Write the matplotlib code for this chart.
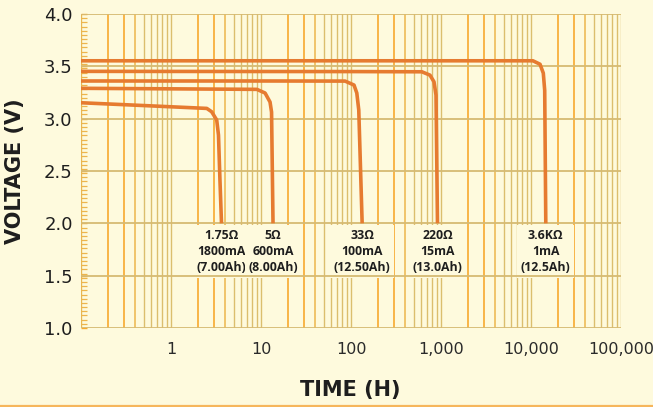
import numpy as np
import matplotlib
matplotlib.use('Agg')
import matplotlib.pyplot as plt
from matplotlib.ticker import FixedLocator, FixedFormatter, MultipleLocator, NullLocator
from matplotlib.lines import Line2D

# ---------------- data ----------------
loads = ['1.75Ω', '5Ω', '33Ω', '220Ω', '3.6KΩ']
currents = ['1800mA', '600mA', '100mA', '15mA', '1mA']
capacities = ['(7.00Ah)', '(8.00Ah)', '(12.50Ah)', '(13.0Ah)', '(12.5Ah)']

t_175 = [0.1, 0.45, 2.5, 2.83, 3.22, 3.37, 3.5, 3.64]
v_175 = [3.152, 3.127, 3.098, 3.066, 2.987, 2.843, 2.41, 2.0]
t_5 = [0.1, 1.0, 9.0, 11.1, 12.6, 13.1, 13.6]
v_5 = [3.29, 3.285, 3.28, 3.245, 3.159, 3.063, 2.0]
t_33 = [0.1, 10, 86, 108, 116, 122, 133]
v_33 = [3.36, 3.36, 3.359, 3.321, 3.245, 3.082, 2.0]
t_220 = [0.1, 100, 613, 754, 836, 880, 914]
v_220 = [3.452, 3.45, 3.448, 3.416, 3.352, 3.225, 2.0]
t_3k6 = [0.1, 1000, 10500, 12600, 13700, 14200, 14600]
v_3k6 = [3.553, 3.553, 3.553, 3.52, 3.435, 3.27, 2.0]

series_t = [t_175, t_5, t_33, t_220, t_3k6]
series_v = [v_175, v_5, v_33, v_220, v_3k6]

x_ticks = [1, 10, 100, 1000, 10000, 100000]
x_tick_labels = ['1', '10', '100', '1,000', '10,000', '100,000']
y_ticks = [1.0, 1.5, 2.0, 2.5, 3.0, 3.5, 4.0]
y_tick_labels = ['1.0', '1.5', '2.0', '2.5', '3.0', '3.5', '4.0']
label_v = 1.73

# ---------------- style ----------------
BG = '#FEFADD'
ORANGE_GRID = '#F7A92E'
MID_GRID = '#EDB54C'
KHAKI_GRID = '#DBBE6E'
HGRID = '#D6BA72'
CURVE = '#E67B30'
TEXT = '#1E1E1E'

W, H = 653, 407
fig = plt.figure(figsize=(W / 100, H / 100), dpi=100, facecolor=BG)
ax = fig.add_axes([81 / W, 79 / H, 540 / W, 314 / H])
ax.set_facecolor(BG)
ax.set_xscale('log')
ax.set_xlim(0.1, 1e5)
ax.set_ylim(1.0, 4.0)

for s in ax.spines.values():
    s.set_visible(False)

# vertical log-paper grid
for d in range(-1, 5):
    for m in range(1, 10):
        pos = m * 10.0 ** d
        if m in (2, 3):
            c, lw = ORANGE_GRID, 1.2
        elif m == 4:
            c, lw = MID_GRID, 1.1
        else:
            c, lw = KHAKI_GRID, 1.0
        ax.axvline(pos, color=c, lw=lw, zorder=1)
ax.axvline(1e5, color=KHAKI_GRID, lw=1.0, zorder=1)
ax.axvline(0.1, color=MID_GRID, lw=1.1, zorder=1)

# horizontal grid
for yv in y_ticks:
    ax.axhline(yv, color=HGRID, lw=1.3, zorder=3)

# curves
for tt, vv in zip(series_t, series_v):
    ax.plot(tt, vv, color=CURVE, lw=2.6, solid_joinstyle='round',
            solid_capstyle='butt', zorder=4)

# annotations
for tt, ld, cur, cap in zip(series_t, loads, currents, capacities):
    ax.text(tt[-1], label_v, f'{ld}\n{cur}\n{cap}', ha='center', va='center',
            multialignment='center', fontsize=8.8, fontweight='bold',
            family=['Open Sans', 'DejaVu Sans'], color=TEXT, linespacing=1.3,
            bbox=dict(boxstyle='square,pad=0.3', facecolor=BG, edgecolor='none'),
            zorder=2)

# ticks
ax.xaxis.set_major_locator(FixedLocator(x_ticks))
ax.xaxis.set_major_formatter(FixedFormatter(x_tick_labels))
ax.xaxis.set_minor_locator(NullLocator())
ax.tick_params(axis='x', which='both', length=0, pad=10, labelsize=11.5,
               labelcolor='#2a2a2a')

ax.yaxis.set_major_locator(FixedLocator(y_ticks))
ax.yaxis.set_major_formatter(FixedFormatter(y_tick_labels))
ax.yaxis.set_minor_locator(MultipleLocator(0.04))
ax.tick_params(axis='y', which='major', direction='in', length=4.5, width=1.0,
               color=ORANGE_GRID, pad=6, labelsize=13, labelcolor=TEXT)
ax.tick_params(axis='y', which='minor', direction='in', length=4.5, width=0.9,
               color=MID_GRID)

ax.set_xlabel('TIME (H)', fontsize=15, fontweight='bold', color=TEXT)
ax.set_ylabel('VOLTAGE (V)', fontsize=15, fontweight='bold', color=TEXT)
ax.xaxis.label.set_va('center')
ax.yaxis.label.set_va('center')
ax.xaxis.set_label_coords(0.498, -0.197)
ax.yaxis.set_label_coords(-0.122, 0.5)

fig.add_artist(Line2D([0, 1], [1.5 / H, 1.5 / H], transform=fig.transFigure,
                      color='#F6B65C', lw=1.6))

fig.savefig('out.png', dpi=100, facecolor=BG)
